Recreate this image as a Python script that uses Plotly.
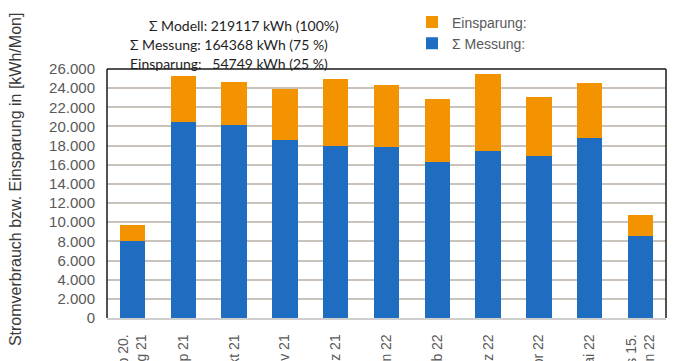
import plotly.graph_objects as go

# Monthly values (kWh per month)
months = ["ab 20.<br>Aug 21", "Sep 21", "Okt 21", "Nov 21", "Dez 21", "Jan 22",
          "Feb 22", "Mrz 22", "Apr 22", "Mai 22", "bis 15.<br>Jun 22"]
messung = [8020, 20440, 20130, 18570, 17990, 17860, 16270, 17440, 16890, 18820, 8570]
modell = [9750, 25280, 24690, 23860, 25000, 24300, 22830, 25520, 23070, 24580, 10780]
einsparung = [m - g for m, g in zip(modell, messung)]

y_ticks = list(range(0, 26001, 2000))

summary_lines = [
    "Σ Modell: 219117 kWh (100%)",
    "Σ Messung: 164368 kWh (75 %)",
    "Einsparung:   54749 kWh (25 %)",
]

BLUE = "#1F6DC1"
ORANGE = "#F49300"
GRID = "#C9C3BC"
LABEL = "#595959"
AXFONT = "Liberation Sans, Arial, sans-serif"

fig = go.Figure()
fig.add_trace(go.Bar(x=months, y=messung, name="Σ Messung:", marker=dict(color=BLUE, line=dict(width=0))))
fig.add_trace(go.Bar(x=months, y=einsparung, name="Einsparung:", marker=dict(color=ORANGE, line=dict(width=0))))

W, H = 673, 361
L, R, T, B = 107, 7, 67, 43

fig.update_layout(
    width=W, height=H,
    margin=dict(l=L, r=R, t=T, b=B),
    barmode="stack",
    bargap=0.5,
    separators=",.",
    paper_bgcolor="white",
    plot_bgcolor="white",
    font=dict(family=AXFONT, color=LABEL),
    legend=dict(
        x=(412 - L) / (W - L - R), y=(H - B - 4) / (H - T - B),
        xanchor="left", yanchor="top",
        traceorder="reversed",
        font=dict(size=14, color=LABEL, family=AXFONT),
        bgcolor="rgba(0,0,0,0)",
        itemwidth=30,
        tracegroupgap=0,
    ),
    xaxis=dict(
        tickangle=-90,
        tickfont=dict(size=14, color=LABEL, family=AXFONT),
        automargin=False,
        showline=True, linecolor="#CFCFCF", linewidth=1.5,
        showgrid=False,
        ticks="",
        ticklabelstandoff=9,
    ),
    yaxis=dict(
        range=[0, 26000],
        tickvals=y_ticks,
        tickformat=",d",
        tickfont=dict(size=15, color=LABEL, family=AXFONT),
        automargin=False,
        showgrid=True, gridcolor=GRID, gridwidth=1.5,
        zeroline=False,
        showline=False,
        ticks="",
        ticklabelstandoff=11,
    ),
)

# Frame around the plot area: dark left/top/right edges
frame = dict(type="line", xref="paper", yref="paper", line=dict(color="#1A1A1A", width=1.5))
fig.add_shape(**frame, x0=0, x1=0, y0=0, y1=1)
fig.add_shape(**frame, x0=0, x1=1, y0=1, y1=1)
fig.add_shape(**frame, x0=1, x1=1, y0=0, y1=1)

pw, ph = W - L - R, H - T - B

def px_x(x):
    return (x - L) / pw

def px_y(y):
    return (H - B - y) / ph

# Y axis title
fig.add_annotation(
    text="Stromverbrauch bzw. Einsparung in [kWh/Mon]",
    xref="paper", yref="paper", x=px_x(15), y=px_y(179),
    xanchor="center", yanchor="middle", textangle=-90, showarrow=False,
    font=dict(size=16, color="#3A3A3A", family=AXFONT),
)

# Summary block above the chart
starts = [147, 128, 128]
centers = [23, 42, 61]
for line, x0, yc in zip(summary_lines, starts, centers):
    fig.add_annotation(
        text=line, xref="paper", yref="paper", x=px_x(x0), y=px_y(yc),
        xanchor="left", yanchor="middle", showarrow=False,
        font=dict(size=14, color="#1E1E1E", family="Lato, sans-serif"),
    )

fig.write_html("out.html")
